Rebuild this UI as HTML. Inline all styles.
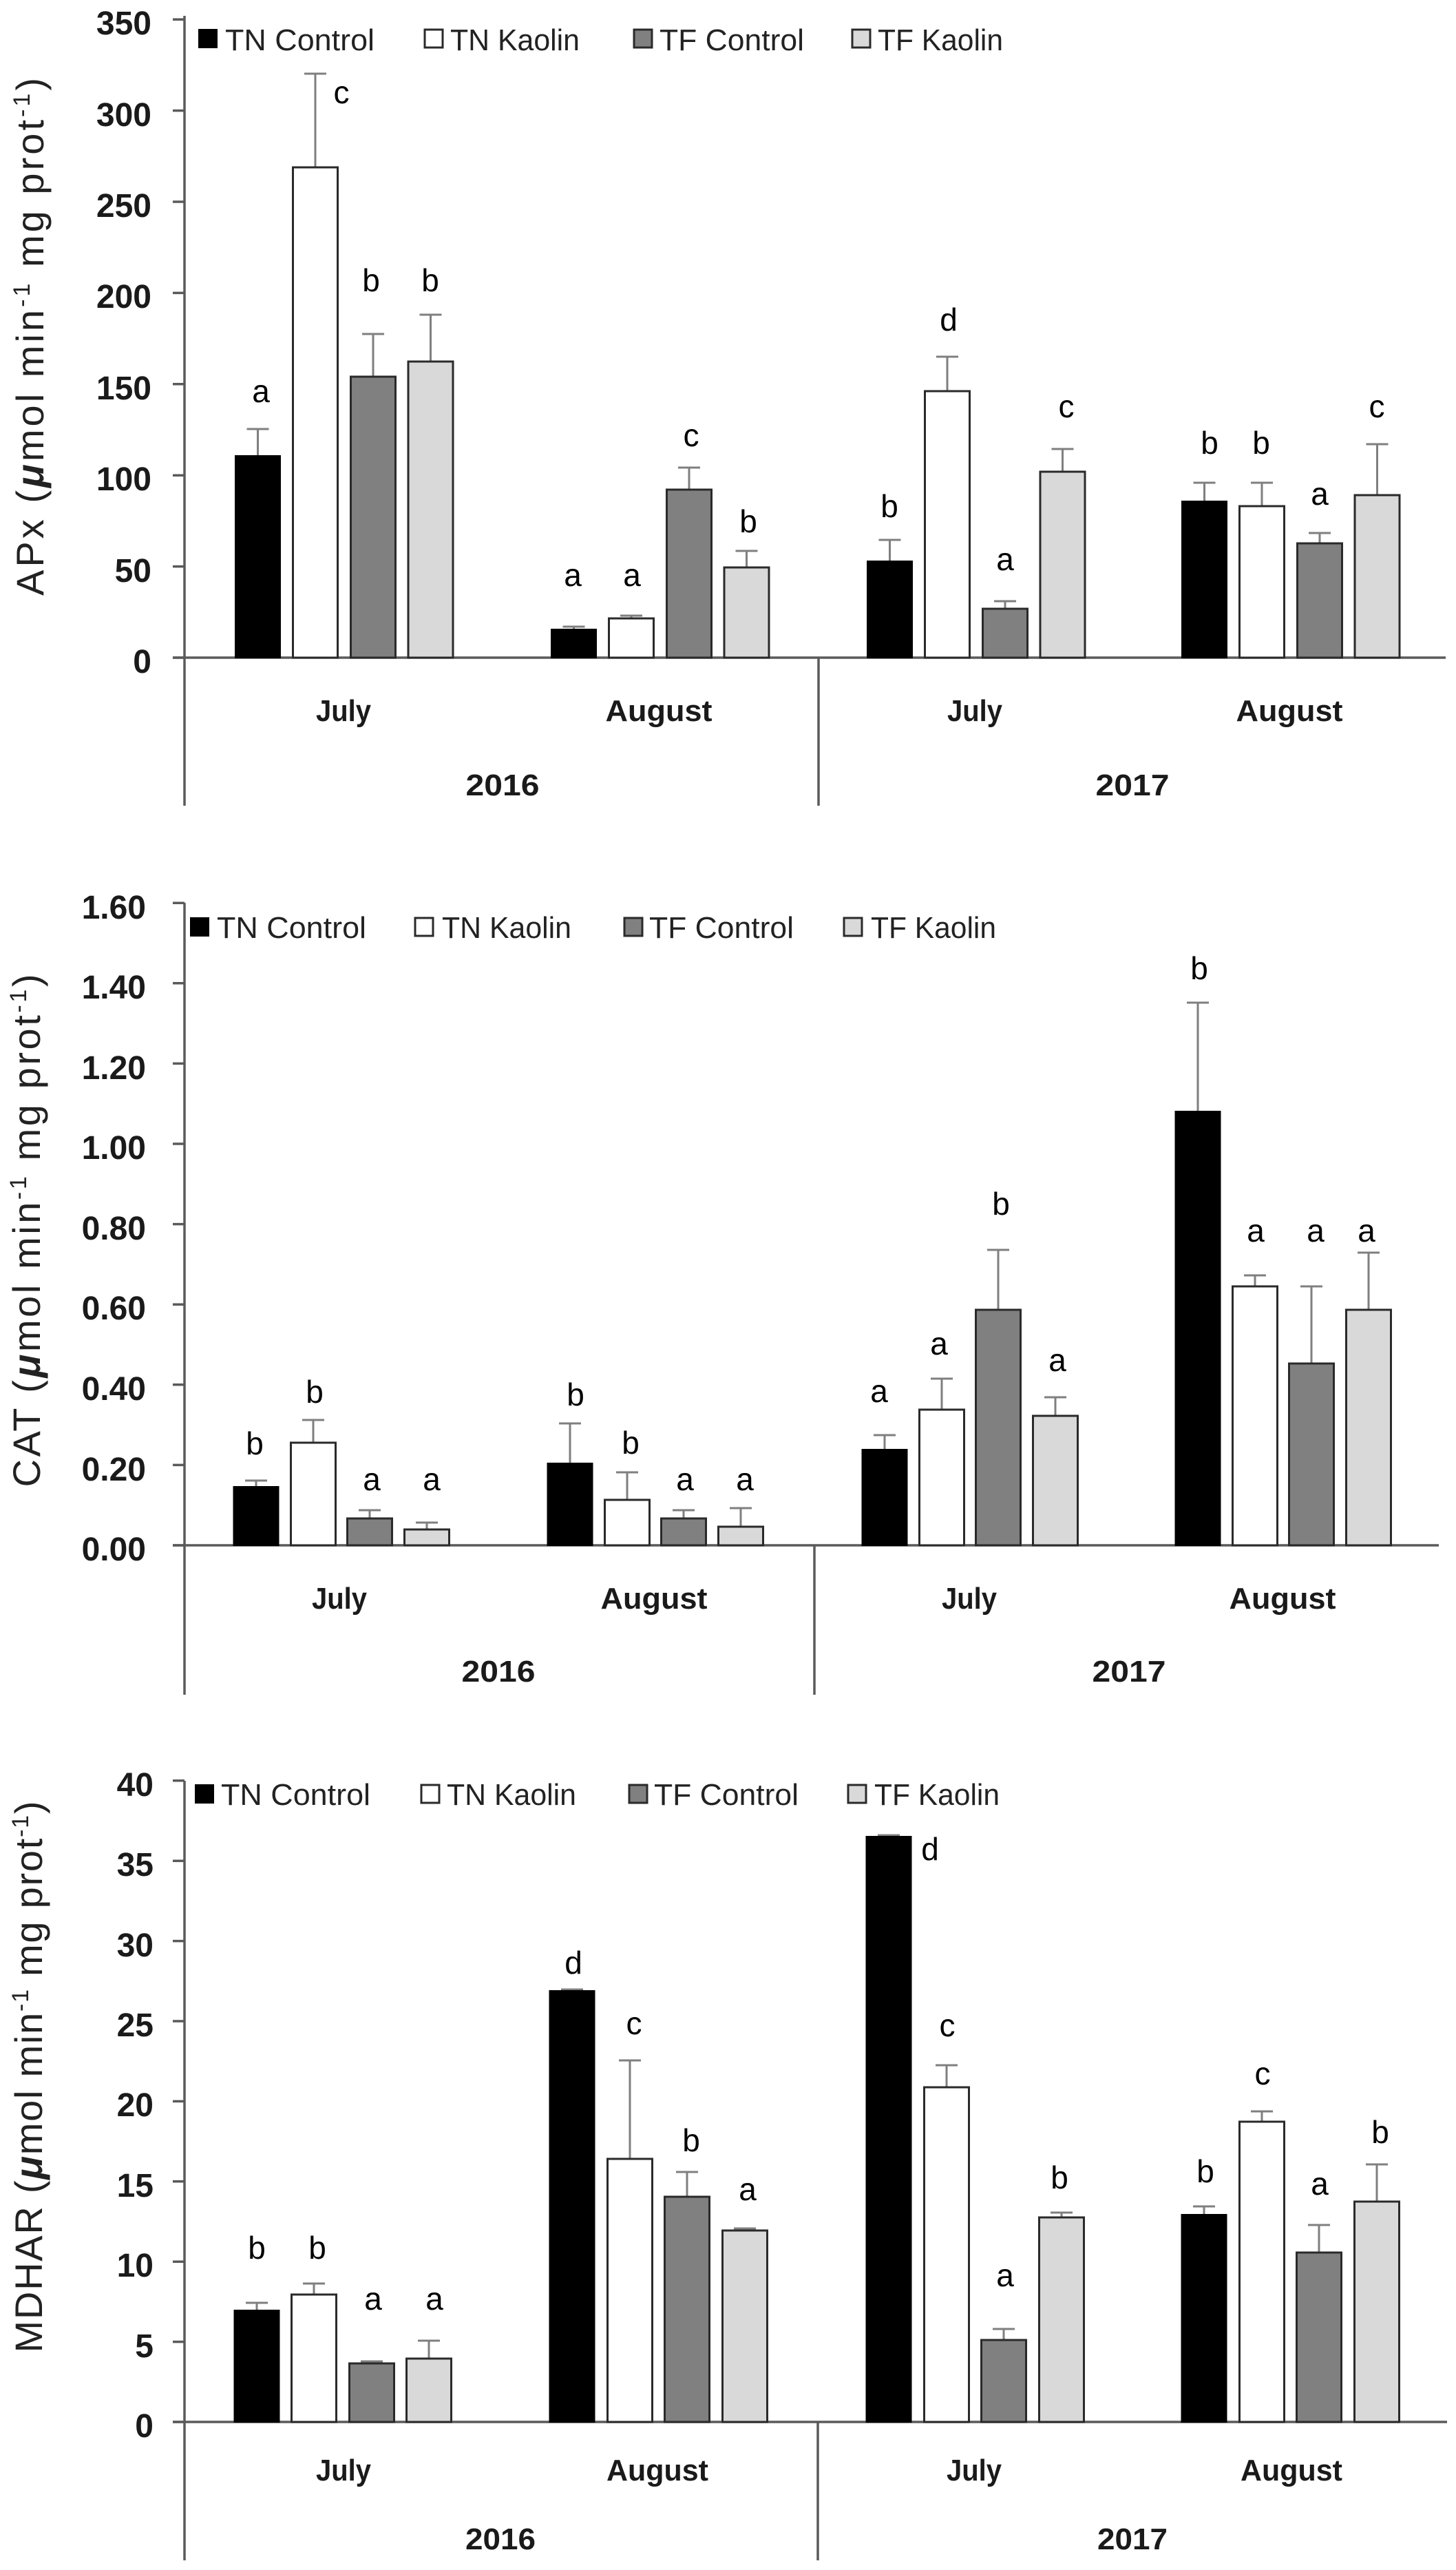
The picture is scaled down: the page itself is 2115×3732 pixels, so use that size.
<!DOCTYPE html>
<html>
<head>
<meta charset="utf-8">
<style>
html,body{margin:0;padding:0;background:#fff;}
svg{display:block;}
text{font-family:"Liberation Sans",Arial,sans-serif;fill:#1a1a1a;}
.tk{font-size:48px;font-weight:bold;text-anchor:end;}
.mo{font-size:44px;font-weight:bold;text-anchor:middle;}
.lg{font-size:44px;fill:#222;}
.lt{font-size:46px;text-anchor:middle;fill:#000;}
.yt{font-size:56px;text-anchor:middle;fill:#222;}
.ax{stroke:#5a5a5a;stroke-width:3.5;fill:none;}
.eb{stroke:#7f7f7f;stroke-width:3;fill:none;}
.b0{fill:#000;stroke:#000;stroke-width:2;}
.b1{fill:#fff;stroke:#2a2a2a;stroke-width:3;}
.b2{fill:#808080;stroke:#2a2a2a;stroke-width:3;}
.b3{fill:#d9d9d9;stroke:#2a2a2a;stroke-width:3;}
</style>
</head>
<body>
<svg width="2115" height="3732" viewBox="0 0 2115 3732" xmlns="http://www.w3.org/2000/svg">
<rect width="2115" height="3732" fill="#fff"/>

<!-- ================= CHART 1: APx ================= -->
<g>
<!-- axes -->
<line class="ax" x1="268" y1="23" x2="268" y2="1170"/>
<line class="ax" x1="251" y1="955" x2="2100" y2="955"/>
<line class="ax" x1="1189" y1="955" x2="1189" y2="1170"/>
<g class="ax">
<line x1="251" y1="955" x2="268" y2="955"/>
<line x1="251" y1="822.6" x2="268" y2="822.6"/>
<line x1="251" y1="690.2" x2="268" y2="690.2"/>
<line x1="251" y1="557.8" x2="268" y2="557.8"/>
<line x1="251" y1="425.4" x2="268" y2="425.4"/>
<line x1="251" y1="293" x2="268" y2="293"/>
<line x1="251" y1="160.6" x2="268" y2="160.6"/>
<line x1="251" y1="28.2" x2="268" y2="28.2"/>
</g>
<text class="tk" x="220" y="977">0</text>
<text class="tk" x="220" y="845">50</text>
<text class="tk" x="220" y="712">100</text>
<text class="tk" x="220" y="580">150</text>
<text class="tk" x="220" y="447">200</text>
<text class="tk" x="220" y="315">250</text>
<text class="tk" x="220" y="183">300</text>
<text class="tk" x="220" y="50">350</text>

<text class="yt" transform="translate(63,489) rotate(-90)" textLength="752" lengthAdjust="spacing">APx (<tspan font-weight="bold" font-style="italic">μ</tspan>mol min<tspan dy="-20" font-size="34">-1</tspan><tspan dy="20"> mg prot</tspan><tspan dy="-20" font-size="34">-1</tspan><tspan dy="20">)</tspan></text>

<!-- legend -->
<rect class="b0" x="289" y="43" width="26" height="26"/>
<text class="lg" x="327" y="73" textLength="217" lengthAdjust="spacingAndGlyphs">TN Control</text>
<rect class="b1" x="617" y="43" width="26" height="26"/>
<text class="lg" x="654" y="73" textLength="188" lengthAdjust="spacingAndGlyphs">TN Kaolin</text>
<rect class="b2" x="921" y="43" width="26" height="26"/>
<text class="lg" x="958" y="73" textLength="210" lengthAdjust="spacingAndGlyphs">TF Control</text>
<rect class="b3" x="1238" y="43" width="26" height="26"/>
<text class="lg" x="1275" y="73" textLength="182" lengthAdjust="spacingAndGlyphs">TF Kaolin</text>

<!-- error bars -->
<g class="eb">
<path d="M374.5 662V623M358.5 623H390.5"/>
<path d="M458 243V107M442 107H474"/>
<path d="M542 547V485M526 485H558"/>
<path d="M625.5 525V457M609.5 457H641.5"/>
<path d="M833.5 914V910M817.5 910H849.5"/>
<path d="M917 898V894M901 894H933"/>
<path d="M1001 711V679M985 679H1017"/>
<path d="M1084.5 824V800M1068.5 800H1100.5"/>
<path d="M1292.5 815V784M1276.5 784H1308.5"/>
<path d="M1376 568V518M1360 518H1392"/>
<path d="M1460 884V873M1444 873H1476"/>
<path d="M1543.5 685V652M1527.5 652H1559.5"/>
<path d="M1749.5 728V701M1733.5 701H1765.5"/>
<path d="M1833 735V701M1817 701H1849"/>
<path d="M1917 789V774M1901 774H1933"/>
<path d="M2000.5 719V645M1984.5 645H2016.5"/>
</g>
<!-- bars -->
<rect class="b0" x="342" y="662" width="65" height="293"/>
<rect class="b1" x="425.5" y="243" width="65" height="712"/>
<rect class="b2" x="509.5" y="547" width="65" height="408"/>
<rect class="b3" x="593" y="525" width="65" height="430"/>
<rect class="b0" x="801" y="914" width="65" height="41"/>
<rect class="b1" x="884.5" y="898" width="65" height="57"/>
<rect class="b2" x="968.5" y="711" width="65" height="244"/>
<rect class="b3" x="1052" y="824" width="65" height="131"/>
<rect class="b0" x="1260" y="815" width="65" height="140"/>
<rect class="b1" x="1343.5" y="568" width="65" height="387"/>
<rect class="b2" x="1427.5" y="884" width="65" height="71"/>
<rect class="b3" x="1511" y="685" width="65" height="270"/>
<rect class="b0" x="1717" y="728" width="65" height="227"/>
<rect class="b1" x="1800.5" y="735" width="65" height="220"/>
<rect class="b2" x="1884.5" y="789" width="65" height="166"/>
<rect class="b3" x="1968" y="719" width="65" height="236"/>
<!-- letters -->
<text class="lt" x="379" y="584">a</text>
<text class="lt" x="496" y="150">c</text>
<text class="lt" x="539" y="423">b</text>
<text class="lt" x="625" y="423">b</text>
<text class="lt" x="832" y="851">a</text>
<text class="lt" x="918" y="851">a</text>
<text class="lt" x="1004" y="648">c</text>
<text class="lt" x="1087" y="773">b</text>
<text class="lt" x="1292" y="751">b</text>
<text class="lt" x="1378" y="480">d</text>
<text class="lt" x="1460" y="828">a</text>
<text class="lt" x="1549" y="606">c</text>
<text class="lt" x="1757" y="659">b</text>
<text class="lt" x="1832" y="659">b</text>
<text class="lt" x="1917" y="733">a</text>
<text class="lt" x="2000" y="606">c</text>
<!-- categories -->
<text class="mo" x="499" y="1047" textLength="80" lengthAdjust="spacingAndGlyphs">July</text>
<text class="mo" x="957" y="1047" textLength="155" lengthAdjust="spacingAndGlyphs">August</text>
<text class="mo" x="1416" y="1047" textLength="80" lengthAdjust="spacingAndGlyphs">July</text>
<text class="mo" x="1873" y="1047" textLength="155" lengthAdjust="spacingAndGlyphs">August</text>
<text class="mo" x="730" y="1155" textLength="107" lengthAdjust="spacingAndGlyphs">2016</text>
<text class="mo" x="1645" y="1155" textLength="107" lengthAdjust="spacingAndGlyphs">2017</text>
</g>

<!-- ================= CHART 2: CAT ================= -->
<g>
<line class="ax" x1="268" y1="1311" x2="268" y2="2461"/>
<line class="ax" x1="251" y1="2244" x2="2090" y2="2244"/>
<line class="ax" x1="1183" y1="2244" x2="1183" y2="2461"/>
<g class="ax">
<line x1="251" y1="2244" x2="268" y2="2244"/>
<line x1="251" y1="2127.4" x2="268" y2="2127.4"/>
<line x1="251" y1="2010.8" x2="268" y2="2010.8"/>
<line x1="251" y1="1894.2" x2="268" y2="1894.2"/>
<line x1="251" y1="1777.6" x2="268" y2="1777.6"/>
<line x1="251" y1="1661" x2="268" y2="1661"/>
<line x1="251" y1="1544.4" x2="268" y2="1544.4"/>
<line x1="251" y1="1427.8" x2="268" y2="1427.8"/>
<line x1="251" y1="1311.2" x2="268" y2="1311.2"/>
</g>
<text class="tk" x="212" y="2266">0.00</text>
<text class="tk" x="212" y="2150">0.20</text>
<text class="tk" x="212" y="2033">0.40</text>
<text class="tk" x="212" y="1916">0.60</text>
<text class="tk" x="212" y="1800">0.80</text>
<text class="tk" x="212" y="1683">1.00</text>
<text class="tk" x="212" y="1567">1.20</text>
<text class="tk" x="212" y="1450">1.40</text>
<text class="tk" x="212" y="1334">1.60</text>

<text class="yt" transform="translate(58,1787) rotate(-90)" textLength="745" lengthAdjust="spacing">CAT (<tspan font-weight="bold" font-style="italic">μ</tspan>mol min<tspan dy="-20" font-size="34">-1</tspan><tspan dy="20"> mg prot</tspan><tspan dy="-20" font-size="34">-1</tspan><tspan dy="20">)</tspan></text>

<rect class="b0" x="277" y="1333" width="26" height="26"/>
<text class="lg" x="315" y="1362" textLength="217" lengthAdjust="spacingAndGlyphs">TN Control</text>
<rect class="b1" x="603" y="1333" width="26" height="26"/>
<text class="lg" x="642" y="1362" textLength="188" lengthAdjust="spacingAndGlyphs">TN Kaolin</text>
<rect class="b2" x="907" y="1333" width="26" height="26"/>
<text class="lg" x="943" y="1362" textLength="210" lengthAdjust="spacingAndGlyphs">TF Control</text>
<rect class="b3" x="1226" y="1333" width="26" height="26"/>
<text class="lg" x="1265" y="1362" textLength="182" lengthAdjust="spacingAndGlyphs">TF Kaolin</text>

<g class="eb">
<path d="M372 2159V2150M356 2150H388"/>
<path d="M455 2095V2062M439 2062H471"/>
<path d="M537 2205V2193M521 2193H553"/>
<path d="M620 2221V2211M604 2211H636"/>
<path d="M828 2125V2067M812 2067H844"/>
<path d="M911 2178V2138M895 2138H927"/>
<path d="M993 2205V2193M977 2193H1009"/>
<path d="M1076 2217V2190M1060 2190H1092"/>
<path d="M1285 2105V2084M1269 2084H1301"/>
<path d="M1368 2047V2002M1352 2002H1384"/>
<path d="M1450 1902V1815M1434 1815H1466"/>
<path d="M1533 2056V2029M1517 2029H1549"/>
<path d="M1740 1614V1456M1724 1456H1756"/>
<path d="M1823 1868V1852M1807 1852H1839"/>
<path d="M1905 1980V1868M1889 1868H1921"/>
<path d="M1988 1902V1819M1972 1819H2004"/>
</g>
<rect class="b0" x="339.5" y="2159" width="65" height="85"/>
<rect class="b1" x="422.5" y="2095" width="65" height="149"/>
<rect class="b2" x="504.5" y="2205" width="65" height="39"/>
<rect class="b3" x="587.5" y="2221" width="65" height="23"/>
<rect class="b0" x="795.5" y="2125" width="65" height="119"/>
<rect class="b1" x="878.5" y="2178" width="65" height="66"/>
<rect class="b2" x="960.5" y="2205" width="65" height="39"/>
<rect class="b3" x="1043.5" y="2217" width="65" height="27"/>
<rect class="b0" x="1252.5" y="2105" width="65" height="139"/>
<rect class="b1" x="1335.5" y="2047" width="65" height="197"/>
<rect class="b2" x="1417.5" y="1902" width="65" height="342"/>
<rect class="b3" x="1500.5" y="2056" width="65" height="188"/>
<rect class="b0" x="1707.5" y="1614" width="65" height="630"/>
<rect class="b1" x="1790.5" y="1868" width="65" height="376"/>
<rect class="b2" x="1872.5" y="1980" width="65" height="264"/>
<rect class="b3" x="1955.5" y="1902" width="65" height="342"/>

<text class="lt" x="370" y="2112">b</text>
<text class="lt" x="457" y="2037">b</text>
<text class="lt" x="540" y="2164">a</text>
<text class="lt" x="627" y="2164">a</text>
<text class="lt" x="836" y="2041">b</text>
<text class="lt" x="916" y="2111">b</text>
<text class="lt" x="995" y="2164">a</text>
<text class="lt" x="1082" y="2164">a</text>
<text class="lt" x="1277" y="2036">a</text>
<text class="lt" x="1364" y="1967">a</text>
<text class="lt" x="1454" y="1764">b</text>
<text class="lt" x="1536" y="1991">a</text>
<text class="lt" x="1742" y="1422">b</text>
<text class="lt" x="1824" y="1803">a</text>
<text class="lt" x="1911" y="1803">a</text>
<text class="lt" x="1985" y="1803">a</text>

<text class="mo" x="493" y="2336" textLength="80" lengthAdjust="spacingAndGlyphs">July</text>
<text class="mo" x="950" y="2336" textLength="155" lengthAdjust="spacingAndGlyphs">August</text>
<text class="mo" x="1408" y="2336" textLength="80" lengthAdjust="spacingAndGlyphs">July</text>
<text class="mo" x="1863" y="2336" textLength="155" lengthAdjust="spacingAndGlyphs">August</text>
<text class="mo" x="724" y="2442" textLength="107" lengthAdjust="spacingAndGlyphs">2016</text>
<text class="mo" x="1640" y="2442" textLength="107" lengthAdjust="spacingAndGlyphs">2017</text>
</g>

<!-- ================= CHART 3: MDHAR ================= -->
<g>
<line class="ax" x1="268" y1="2586" x2="268" y2="3718"/>
<line class="ax" x1="251" y1="3517" x2="2102" y2="3517"/>
<line class="ax" x1="1188" y1="3517" x2="1188" y2="3718"/>
<g class="ax">
<line x1="251" y1="3517" x2="268" y2="3517"/>
<line x1="251" y1="3400.6" x2="268" y2="3400.6"/>
<line x1="251" y1="3284.2" x2="268" y2="3284.2"/>
<line x1="251" y1="3167.8" x2="268" y2="3167.8"/>
<line x1="251" y1="3051.4" x2="268" y2="3051.4"/>
<line x1="251" y1="2935" x2="268" y2="2935"/>
<line x1="251" y1="2818.6" x2="268" y2="2818.6"/>
<line x1="251" y1="2702.2" x2="268" y2="2702.2"/>
<line x1="251" y1="2585.8" x2="268" y2="2585.8"/>
</g>
<text class="tk" x="223" y="3539">0</text>
<text class="tk" x="223" y="3423">5</text>
<text class="tk" x="223" y="3306">10</text>
<text class="tk" x="223" y="3190">15</text>
<text class="tk" x="223" y="3073">20</text>
<text class="tk" x="223" y="2957">25</text>
<text class="tk" x="223" y="2841">30</text>
<text class="tk" x="223" y="2724">35</text>
<text class="tk" x="223" y="2608">40</text>

<text class="yt" transform="translate(61,3016) rotate(-90)" textLength="801" lengthAdjust="spacing">MDHAR (<tspan font-weight="bold" font-style="italic">μ</tspan>mol min<tspan dy="-20" font-size="34">-1</tspan><tspan dy="20"> mg prot</tspan><tspan dy="-20" font-size="34">-1</tspan><tspan dy="20">)</tspan></text>

<rect class="b0" x="284" y="2592" width="26" height="26"/>
<text class="lg" x="321" y="2621" textLength="217" lengthAdjust="spacingAndGlyphs">TN Control</text>
<rect class="b1" x="612" y="2592" width="26" height="26"/>
<text class="lg" x="649" y="2621" textLength="188" lengthAdjust="spacingAndGlyphs">TN Kaolin</text>
<rect class="b2" x="914" y="2592" width="26" height="26"/>
<text class="lg" x="950" y="2621" textLength="210" lengthAdjust="spacingAndGlyphs">TF Control</text>
<rect class="b3" x="1232" y="2592" width="26" height="26"/>
<text class="lg" x="1270" y="2621" textLength="182" lengthAdjust="spacingAndGlyphs">TF Kaolin</text>

<g class="eb">
<path d="M373 3355V3344M357 3344H389"/>
<path d="M456 3332V3316M440 3316H472"/>
<path d="M540 3432V3429M524 3429H556"/>
<path d="M623 3425V3399M607 3399H639"/>
<path d="M831 2891V2889M815 2889H847"/>
<path d="M915 3135V2992M899 2992H931"/>
<path d="M998 3190V3154M982 3154H1014"/>
<path d="M1082 3239V3236M1066 3236H1098"/>
<path d="M1291 2667V2665M1275 2665H1307"/>
<path d="M1375 3031V2999M1359 2999H1391"/>
<path d="M1458 3398V3382M1442 3382H1474"/>
<path d="M1542 3220V3213M1526 3213H1558"/>
<path d="M1749 3216V3204M1733 3204H1765"/>
<path d="M1833 3081V3066M1817 3066H1849"/>
<path d="M1916 3271V3231M1900 3231H1932"/>
<path d="M2000 3197V3143M1984 3143H2016"/>
</g>
<rect class="b0" x="340.5" y="3355" width="65" height="162"/>
<rect class="b1" x="423.5" y="3332" width="65" height="185"/>
<rect class="b2" x="507.5" y="3432" width="65" height="85"/>
<rect class="b3" x="590.5" y="3425" width="65" height="92"/>
<rect class="b0" x="798.5" y="2891" width="65" height="626"/>
<rect class="b1" x="882.5" y="3135" width="65" height="382"/>
<rect class="b2" x="965.5" y="3190" width="65" height="327"/>
<rect class="b3" x="1049.5" y="3239" width="65" height="278"/>
<rect class="b0" x="1258.5" y="2667" width="65" height="850"/>
<rect class="b1" x="1342.5" y="3031" width="65" height="486"/>
<rect class="b2" x="1425.5" y="3398" width="65" height="119"/>
<rect class="b3" x="1509.5" y="3220" width="65" height="297"/>
<rect class="b0" x="1716.5" y="3216" width="65" height="301"/>
<rect class="b1" x="1800.5" y="3081" width="65" height="436"/>
<rect class="b2" x="1883.5" y="3271" width="65" height="246"/>
<rect class="b3" x="1967.5" y="3197" width="65" height="320"/>

<text class="lt" x="373" y="3280">b</text>
<text class="lt" x="461" y="3280">b</text>
<text class="lt" x="542" y="3354">a</text>
<text class="lt" x="631" y="3354">a</text>
<text class="lt" x="833" y="2866">d</text>
<text class="lt" x="921" y="2954">c</text>
<text class="lt" x="1004" y="3124">b</text>
<text class="lt" x="1086" y="3195">a</text>
<text class="lt" x="1351" y="2701">d</text>
<text class="lt" x="1376" y="2957">c</text>
<text class="lt" x="1460" y="3320">a</text>
<text class="lt" x="1539" y="3178">b</text>
<text class="lt" x="1751" y="3169">b</text>
<text class="lt" x="1834" y="3027">c</text>
<text class="lt" x="1917" y="3187">a</text>
<text class="lt" x="2005" y="3112">b</text>

<text class="mo" x="499" y="3602" textLength="80" lengthAdjust="spacingAndGlyphs">July</text>
<text class="mo" x="955" y="3602" textLength="148" lengthAdjust="spacingAndGlyphs">August</text>
<text class="mo" x="1415" y="3602" textLength="80" lengthAdjust="spacingAndGlyphs">July</text>
<text class="mo" x="1876" y="3602" textLength="148" lengthAdjust="spacingAndGlyphs">August</text>
<text class="mo" x="727" y="3702" textLength="102" lengthAdjust="spacingAndGlyphs">2016</text>
<text class="mo" x="1645" y="3702" textLength="102" lengthAdjust="spacingAndGlyphs">2017</text>
</g>
</svg>
</body>
</html>
